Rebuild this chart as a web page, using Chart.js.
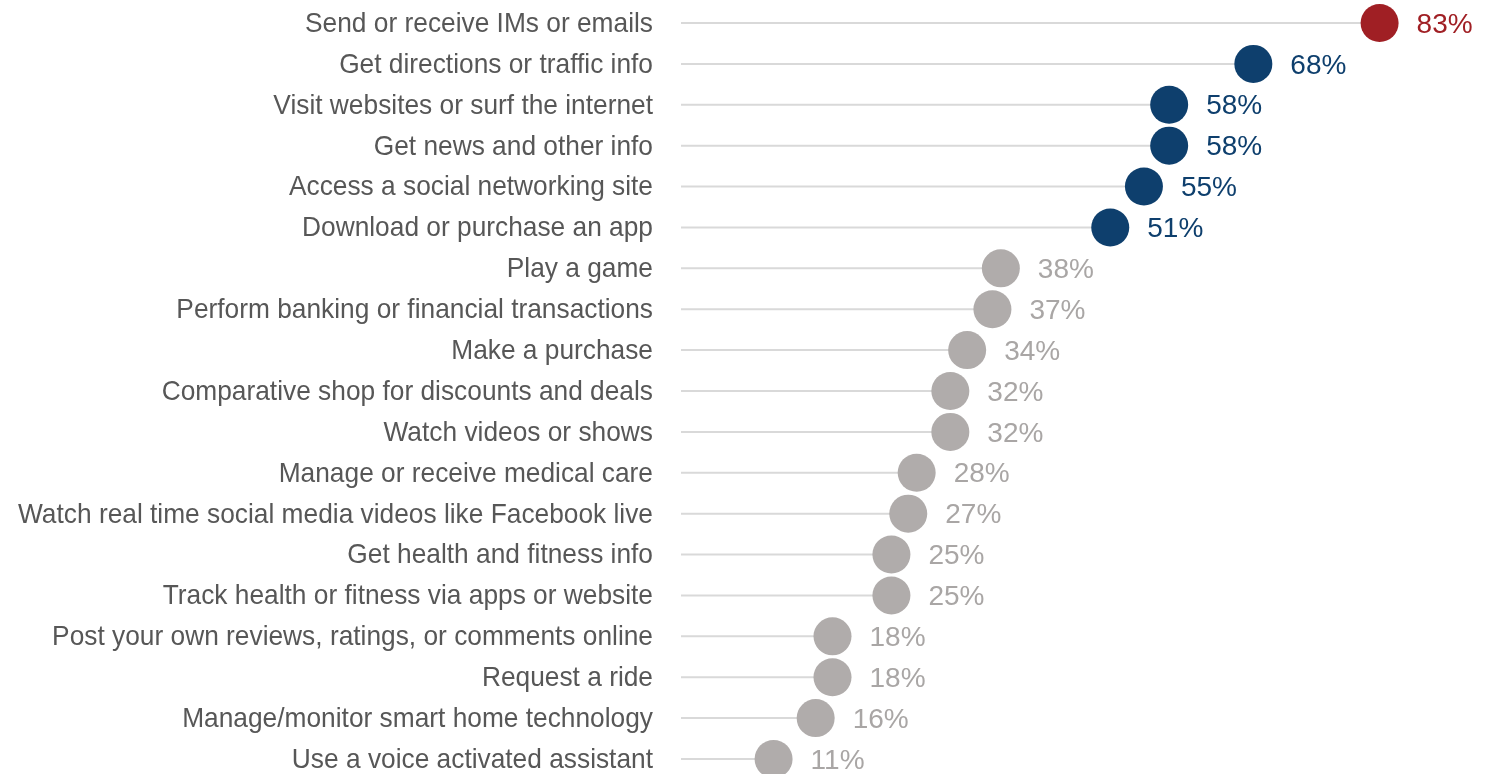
<!DOCTYPE html>
<html>
<head>
<meta charset="utf-8">
<script src="https://cdn.jsdelivr.net/npm/chart.js@4.4.1/dist/chart.umd.min.js"></script>
<style>
  html, body { margin: 0; padding: 0; background: #fff; overflow: hidden; }
  #wrap { width: 1496px; height: 774px; }
</style>
</head>
<body>
<div id="wrap"><canvas id="dotChart"></canvas></div>
<script>
const categories = [
    'Send or receive IMs or emails',
    'Get directions or traffic info',
    'Visit websites or surf the internet',
    'Get news and other info',
    'Access a social networking site',
    'Download or purchase an app',
    'Play a game',
    'Perform banking or financial transactions',
    'Make a purchase',
    'Comparative shop for discounts and deals',
    'Watch videos or shows',
    'Manage or receive medical care',
    'Watch real time social media videos like Facebook live',
    'Get health and fitness info',
    'Track health or fitness via apps or website',
    'Post your own reviews, ratings, or comments online',
    'Request a ride',
    'Manage/monitor smart home technology',
    'Use a voice activated assistant'
];
const shares = [83, 68, 58, 58, 55, 51, 38, 37, 34, 32, 32, 28, 27, 25, 25, 18, 18, 16, 11];
const groups = ['top', 'high', 'high', 'high', 'high', 'high', 'low', 'low', 'low', 'low',
    'low', 'low', 'low', 'low', 'low', 'low', 'low', 'low', 'low'];

const dotColors = { top: '#A01F24', high: '#0E3F6D', low: '#B0ACAB' };
const textColors = { top: '#A01F24', high: '#0E3F6D', low: '#A9A6A5' };
const FONT = '"Liberation Sans", Arial, sans-serif';

const stemSets = shares.map((v, i) => ({
    type: 'line',
    data: [{ x: 0, y: i }, { x: v, y: i }],
    borderColor: '#D9D9D9',
    borderWidth: 2,
    pointRadius: 0,
    order: 2
}));

const dotSet = {
    type: 'scatter',
    data: shares.map((v, i) => ({ x: v, y: i })),
    pointRadius: 19,
    pointHoverRadius: 19,
    pointBorderWidth: 0,
    pointBackgroundColor: groups.map(g => dotColors[g]),
    clip: false,
    order: 1
};

// category names (slightly condensed like the original) and value labels
const textLabels = {
    id: 'textLabels',
    afterDatasetsDraw(chart) {
        const ctx = chart.ctx;
        const yScale = chart.scales.y;
        const right = chart.chartArea.left - 28;
        const squeeze = 0.923;

        ctx.save();
        ctx.font = '28.5px ' + FONT;
        ctx.fillStyle = '#575757';
        ctx.textAlign = 'right';
        ctx.textBaseline = 'middle';
        categories.forEach((name, i) => {
            const y = yScale.getPixelForValue(i);
            ctx.save();
            ctx.translate(right, y + 1);
            ctx.scale(squeeze, 1);
            ctx.fillText(name, 0, 0);
            ctx.restore();
        });
        ctx.restore();

        const meta = chart.getDatasetMeta(chart.data.datasets.length - 1);
        ctx.save();
        ctx.font = '28px ' + FONT;
        ctx.textAlign = 'left';
        ctx.textBaseline = 'middle';
        meta.data.forEach((pt, i) => {
            ctx.fillStyle = textColors[groups[i]];
            ctx.fillText(shares[i] + '%', pt.x + 37, pt.y + 2);
        });
        ctx.restore();
    }
};

new Chart(document.getElementById('dotChart'), {
    type: 'scatter',
    data: { datasets: [...stemSets, dotSet] },
    options: {
        responsive: true,
        maintainAspectRatio: false,
        animation: false,
        layout: { padding: 0, autoPadding: false },
        plugins: { legend: { display: false }, tooltip: { enabled: false } },
        scales: {
            x: {
                type: 'linear',
                min: 0,
                max: 96.83,
                display: false
            },
            y: {
                type: 'linear',
                reverse: true,
                min: -0.5625,
                max: 18.367,
                grid: { display: false, drawTicks: false },
                border: { display: false },
                afterFit(scale) { scale.width = 681; },
                ticks: { display: false, stepSize: 1 }
            }
        }
    },
    plugins: [textLabels]
});
</script>
</body>
</html>
